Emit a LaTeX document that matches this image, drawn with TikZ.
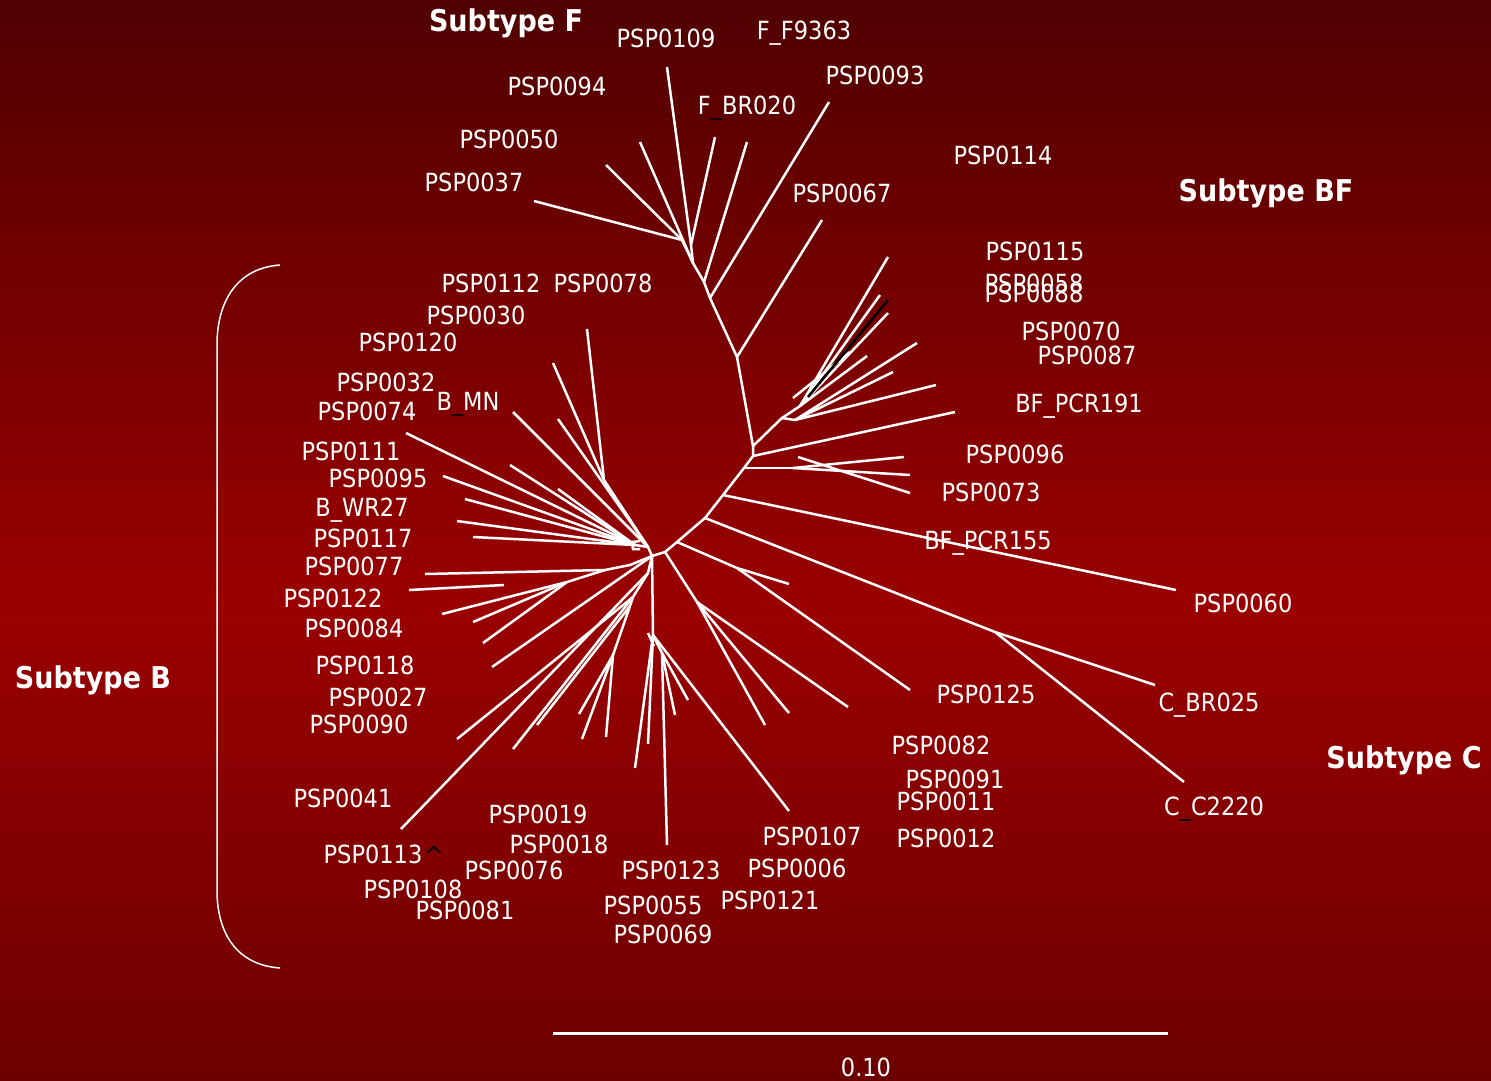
\documentclass[tikz,border=0pt]{standalone}
\usepackage{fontspec}
\setmainfont{DejaVu Sans}[FakeStretch=0.9]

\definecolor{bgtop}{RGB}{80,0,0}
\definecolor{bgmid}{RGB}{154,0,0}
\definecolor{bgbot}{RGB}{108,0,0}
\pgfdeclareverticalshading{treebg}{100bp}{color(0bp)=(bgbot); color(25bp)=(bgbot); color(47bp)=(bgmid); color(75bp)=(bgtop); color(100bp)=(bgtop)}

\tikzset{
  branch/.style = {white, line width=2.5pt},
  leaf/.style = {text=white, inner sep=0pt, text height=18pt, text depth=0pt, font=\fontsize{25}{30}\selectfont},
  clade/.style = {text=white, inner sep=0pt, font=\bfseries\fontsize{30}{36}\selectfont},
}

\begin{document}
\begin{tikzpicture}[x=1pt, y=-1pt]
% Background
\shade[shading=treebg] (0,0) rectangle (1491,1080);
\useasboundingbox (0,0) rectangle (1491,1080);

% Internal nodes
\coordinate (f1) at (682,240);
\coordinate (f2) at (693,263);
\coordinate (f3) at (691,245);
\coordinate (f4) at (704,282);
\coordinate (f5) at (710,298);
\coordinate (f6) at (737,357);
\coordinate (bf1) at (753,446);
\coordinate (bf2) at (753,456);
\coordinate (bfa) at (782,418);
\coordinate (bfb) at (795,420);
\coordinate (bfc) at (800,406);
\coordinate (bfd) at (744,468);
\coordinate (bfe) at (793,468);
\coordinate (c1) at (723,495);
\coordinate (c2) at (705,518);
\coordinate (c3) at (677,542);
\coordinate (c4) at (665,552);
\coordinate (root) at (652,556);
\coordinate (cc) at (995,632);
\coordinate (ce) at (737,568);
\coordinate (cg) at (697,602);
\coordinate (h1) at (653,635);
\coordinate (h2) at (662,653);
\coordinate (b0) at (648,547);
\coordinate (b1) at (635,545);
\coordinate (bk) at (604,480);
\coordinate (l1) at (630,565);
\coordinate (l2) at (605,570);
\coordinate (l3) at (567,582);
\coordinate (m1) at (648,573);
\coordinate (m2) at (633,597);
\coordinate (m3) at (630,606);
\coordinate (m4) at (613,655);

% Backbone
\draw[branch] (f1) -- (f2) -- (f4) -- (f5) -- (f6) -- (bf1) -- (bf2) -- (bfd) -- (c1) -- (c2) -- (c3) -- (c4) -- (root);

% Subtype F
\draw[branch] (f1) -- (534,201);
\draw[branch] (f1) -- (606,165);
\draw[branch] (f2) -- (640,142);
\draw[branch] (f3) -- (667,67);
\draw[branch] (f3) -- (715,137);
\draw[branch] (f3) -- (f2);
\draw[branch] (f4) -- (747,142);
\draw[branch] (f5) -- (829,102);
\draw[branch] (f6) -- (822,220);

% Subtype BF
\draw[branch] (bf1) -- (bfa) -- (bfb);
\draw[branch] (bfb) -- (936,385);
\draw[branch] (bfb) -- (917,343);
\draw[branch] (bfb) -- (893,372);
\draw[branch] (bfa) -- (bfc);
\draw[branch] (bfc) -- (867,356);
\draw[branch] (bfc) -- (888,257);
\draw[branch] (bfc) -- (880,295);
\draw[branch] (bfc) -- (888,313);
\draw[branch] (793,398) -- (850,352);
\draw[black, line width=2.5pt] (808,397) -- (888,300);
\draw[branch] (bf2) -- (955,412);
\draw[branch] (bfd) -- (bfe);
\draw[branch] (bfe) -- (904,457);
\draw[branch] (bfe) -- (910,475);
\draw[branch] (798,457) -- (910,493);

% Subtype C and neighbours
\draw[branch] (c1) -- (1176,590);
\draw[branch] (c2) -- (cc);
\draw[branch] (cc) -- (1155,685);
\draw[branch] (cc) -- (1184,782);
\draw[branch] (c3) -- (ce);
\draw[branch] (ce) -- (789,584);
\draw[branch] (ce) -- (910,690);
\draw[branch] (c4) -- (cg);
\draw[branch] (cg) -- (848,707);
\draw[branch] (cg) -- (789,713);
\draw[branch] (cg) -- (765,725);

% Lower fan
\draw[branch] (root) -- (h1);
\draw[branch] (h1) -- (635,768);
\draw[branch] (h1) -- (648,744);
\draw[branch] (h1) -- (789,811);
\draw[branch] (h1) -- (h2);
\draw[branch] (h2) -- (667,845);
\draw[branch] (h2) -- (688,700);
\draw[branch] (h2) -- (675,715);
\draw[branch] (648,633) -- (654,646);

% Subtype B, upper fan
\draw[branch] (root) -- (b0) -- (b1);
\foreach \tx/\ty in {406/433, 443/476, 465/499, 457/521, 473/537, 510/465, 558/489}
  \draw[branch] (b1) -- (\tx,\ty);
\draw[branch] (b0) -- (513,412);
\draw[branch] (b0) -- (558,419);
\draw[branch] (b0) -- (bk);
\draw[branch] (bk) -- (587,329);
\draw[branch] (bk) -- (553,363);
\draw[branch] (640,541) -- (632,542) -- (633,549) -- (640,549);

% Subtype B, lower fan
\draw[branch] (root) -- (l1) -- (l2) -- (425,574);
\draw[branch] (l2) -- (l3);
\draw[branch] (l3) -- (442,614);
\draw[branch] (l3) -- (473,622);
\draw[branch] (l3) -- (483,643);
\draw[branch] (409,590) -- (504,585);
\draw[branch] (root) -- (492,667);
\draw[branch] (root) -- (m1);
\draw[branch] (m1) -- (401,829);
\draw[branch] (m1) -- (m2);
\draw[branch] (m2) -- (457,739);
\draw[branch] (m2) -- (513,749);
\draw[branch] (m2) -- (m3);
\draw[branch] (m3) -- (537,725);
\draw[branch] (m3) -- (m4);
\draw[branch] (m4) -- (579,714);
\draw[branch] (m4) -- (582,739);
\draw[branch] (m4) -- (606,737);

% Bracket of subtype B
\draw[white, line width=1.5pt] (280,265) .. controls (238,268) and (217,300) .. (217,345) -- (217,890) .. controls (217,935) and (238,965) .. (280,968);

% Scale bar
\coordinate (sb0) at (553,1033);
\coordinate (sb1) at (1168,1033);
\draw[white, line width=3pt] (sb0) -- (sb1);
\node[leaf] (lscale) at (866,1067) {0.10};

% Clade titles
\node[clade] (tF) at (506,23) {Subtype F};
\node[clade] (tBF) at (1266,193) {Subtype BF};
\node[clade] (tB) at (93,680) {Subtype B};
\node[clade] (tC) at (1404,760) {Subtype C};

% Leaf labels
\node[leaf] (l0109) at (666,38) {PSP0109};
\node[leaf] (lF9363) at (804,30) {F\_F9363};
\node[leaf] (l0094) at (557,86) {PSP0094};
\node[leaf] (lBR020) at (747,105) {F\textcolor{black}{\_}BR020};
\node[leaf] (l0093) at (875,75) {PSP0093};
\node[leaf] (l0050) at (509,139) {PSP0050};
\node[leaf] (l0114) at (1003,155) {PSP0114};
\node[leaf] (l0037) at (474,182) {PSP0037};
\node[leaf] (l0067) at (842,193) {PSP0067};
\node[leaf] (l0115) at (1035,251) {PSP0115};
\node[leaf] (l0058) at (1034,283) {PSP0058};
\node[leaf] (l0088) at (1034,293) {PSP0088};
\node[leaf] (l0070) at (1071,331) {PSP0070};
\node[leaf] (l0087) at (1087,355) {PSP0087};
\node[leaf] (lPCR191) at (1079,403) {BF\_PCR191};
\node[leaf] (l0096) at (1015,454) {PSP0096};
\node[leaf] (l0073) at (991,492) {PSP0073};
\node[leaf] (lPCR155) at (988,540) {BF\_PCR155};
\node[leaf] (l0060) at (1243,603) {PSP0060};
\node[leaf] (lBR025) at (1209,702) {C\_BR025};
\node[leaf] (lC2220) at (1214,806) {C\textcolor{black}{\_}C2220};
\node[leaf] (l0125) at (986,694) {PSP0125};
\node[leaf] (l0082) at (941,745) {PSP0082};
\node[leaf] (l0091) at (955,779) {PSP0091};
\node[leaf] (l0011) at (946,801) {PSP0011};
\node[leaf] (l0012) at (946,838) {PSP0012};
\node[leaf] (l0107) at (812,836) {PSP0107};
\node[leaf] (l0006) at (797,868) {PSP0006};
\node[leaf] (l0121) at (770,900) {PSP0121};
\node[leaf] (l0123) at (671,870) {PSP0123};
\node[leaf] (l0055) at (653,905) {PSP0055};
\node[leaf] (l0069) at (663,934) {PSP0069};
\node[leaf] (l0019) at (538,814) {PSP0019};
\node[leaf] (l0018) at (559,844) {PSP0018};
\node[leaf] (l0076) at (514,870) {PSP0076};
\node[leaf] (l0081) at (465,910) {PSP0081};
\node[leaf] (l0108) at (413,889) {PSP0108};
\node[leaf] (l0113) at (373,854) {PSP0113};
\node[text=black, inner sep=0pt, font=\fontsize{26}{28}\selectfont] (lhat) at (434,856) {\textasciicircum};
\node[leaf] (l0041) at (343,798) {PSP0041};
\node[leaf] (l0090) at (359,724) {PSP0090};
\node[leaf] (l0027) at (378,697) {PSP0027};
\node[leaf] (l0118) at (365,665) {PSP0118};
\node[leaf] (l0084) at (354,628) {PSP0084};
\node[leaf] (l0122) at (333,598) {PSP0122};
\node[leaf] (l0077) at (354,566) {PSP0077};
\node[leaf] (l0117) at (363,538) {PSP0117};
\node[leaf] (lWR27) at (362,507) {B\_WR27};
\node[leaf] (l0095) at (378,478) {PSP0095};
\node[leaf] (l0111) at (351,451) {PSP0111};
\node[leaf] (l0074) at (367,411) {PSP0074};
\node[leaf] (l0032) at (386,382) {PSP0032};
\node[leaf] (lMN) at (468,401) {B\textcolor{black}{\_}MN};
\node[leaf] (l0120) at (408,342) {PSP0120};
\node[leaf] (l0030) at (476,315) {PSP0030};
\node[leaf] (l0112) at (491,283) {PSP0112};
\node[leaf] (l0078) at (603,283) {PSP0078};
\end{tikzpicture}
\end{document}
